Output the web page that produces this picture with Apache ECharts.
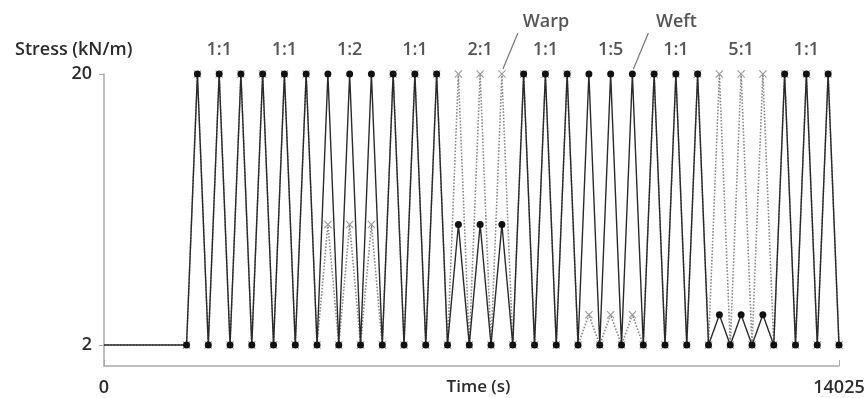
<!DOCTYPE html>
<html><head><meta charset="utf-8">
<script src="https://cdn.jsdelivr.net/npm/echarts@6/dist/echarts.min.js"></script>
<style>html,body{margin:0;padding:0;background:#fff}#c{width:868px;height:398px}</style>
</head><body><div id="c"></div>
<script>
// Time (s) of each turning point: start, end of initial hold, then alternating peak / valley
const times = [0, 1575,
  1782.5, 1990, 2197.5, 2405, 2612.5, 2820, 3027.5, 3235, 3442.5, 3650,
  3857.5, 4065, 4272.5, 4480, 4687.5, 4895, 5102.5, 5310, 5517.5, 5725,
  5932.5, 6140, 6347.5, 6555, 6762.5, 6970, 7177.5, 7385, 7592.5, 7800,
  8007.5, 8215, 8422.5, 8630, 8837.5, 9045, 9252.5, 9460, 9667.5, 9875,
  10082.5, 10290, 10497.5, 10705, 10912.5, 11120, 11327.5, 11535, 11742.5, 11950,
  12157.5, 12365, 12572.5, 12780, 12987.5, 13195, 13402.5, 13610, 13817.5, 14025];
const initialStress = 2;
const valleyStress = 2;
// Peak stress (kN/m) of each of the 30 cycles
const weftPeaks = [20,20,20, 20,20,20, 20,20,20, 20,20,20, 10,10,10, 20,20,20, 20,20,20, 20,20,20, 4,4,4, 20,20,20];
const warpPeaks = [20,20,20, 20,20,20, 10,10,10, 20,20,20, 20,20,20, 20,20,20, 4,4,4, 20,20,20, 20,20,20, 20,20,20];
const ratioLabels = ['1:1','1:1','1:2','1:1','2:1','1:1','1:5','1:1','5:1','1:1'];
const yTicks = [2, 20];
const xTicks = [0, 14025];

function buildSeries(peaks){
  const pts = [{value:[times[0], initialStress], symbol:'none'}, [times[1], valleyStress]];
  peaks.forEach((p, i) => { pts.push([times[2+2*i], p]); pts.push([times[3+2*i], valleyStress]); });
  return pts;
}
const labelPts = ratioLabels.map((r, g) => ({value:[times[2 + 2*(3*g+1)], 20], name:r}));

const FONT = "'Open Sans', sans-serif";
const TXT = '#2b2b2b';
const chart = echarts.init(document.getElementById('c'), null, {renderer:'canvas'});
const xPath = 'path://M0,1 L1,0 L5,4 L9,0 L10,1 L6,5 L10,9 L9,10 L5,6 L1,10 L0,9 L4,5 Z';
chart.setOption({
  animation:false,
  backgroundColor:'#fff',
  title:{text:'Stress (kN/m)', left:10, top:36, textStyle:{fontFamily:FONT, fontSize:18, fontWeight:600, color:TXT}},
  grid:{left:104, right:29, top:74, bottom:32, containLabel:false, outerBoundsMode:'none'},
  xAxis:{type:'value', min:0, max:14025, name:'Time (s)', nameLocation:'middle', nameGap:13, nameMoveOverlap:false,
    nameTextStyle:{fontFamily:FONT, fontSize:17, fontWeight:600, color:TXT, padding:[0,0,0,14], verticalAlign:'top'},
    axisLine:{onZero:false, lineStyle:{color:'#aaa', width:1.5}},
    axisTick:{inside:true, length:6, lineStyle:{color:'#aaa'}, customValues:xTicks},
    axisLabel:{customValues:xTicks, margin:13, formatter:v=>String(v), fontFamily:FONT, fontSize:18, fontWeight:600, color:TXT},
    splitLine:{show:false}},
  yAxis:{type:'value', min:0.6, max:20,
    axisLine:{show:true, lineStyle:{color:'#aaa', width:1.5}},
    axisTick:{show:true, length:5, lineStyle:{color:'#aaa'}, customValues:yTicks},
    axisLabel:{customValues:yTicks, margin:12, fontFamily:FONT, fontSize:18, fontWeight:600, color:TXT},
    splitLine:{show:false}},
  series:[
    {name:'Warp', type:'line', data:buildSeries(warpPeaks), symbol:xPath, symbolSize:8,
      itemStyle:{color:'#999'}, lineStyle:{color:'#8a8a8a', width:1.6, type:'dotted'}, z:2},
    {name:'Weft', type:'line', data:buildSeries(weftPeaks), symbol:'circle', symbolSize:7,
      itemStyle:{color:'#111'}, lineStyle:{color:'#2a2a2a', width:1.4}, z:3},
    {name:'ratio', type:'scatter', data:labelPts, symbolSize:1, itemStyle:{color:'rgba(0,0,0,0)'},
      label:{show:true, position:'top', distance:15, formatter:p=>p.name, fontFamily:FONT, fontSize:18, fontWeight:600, color:TXT}, z:4}
  ]
});

function annot(text, t, v){
  const p = chart.convertToPixel({gridIndex:0}, [t, v]);
  return [
    {type:'line', shape:{x1:p[0]+16, y1:p[1]-41, x2:p[0]+1, y2:p[1]-5}, style:{stroke:'#777', lineWidth:1.2}},
    {type:'text', x:p[0]+44, y:p[1]-52, style:{text:text, fill:'#555', font:'600 18px '+FONT, align:'center', verticalAlign:'middle'}}
  ];
}
chart.setOption({graphic:[...annot('Warp', times[30], warpPeaks[14]), ...annot('Weft', times[42], weftPeaks[20])]});
</script></body></html>
